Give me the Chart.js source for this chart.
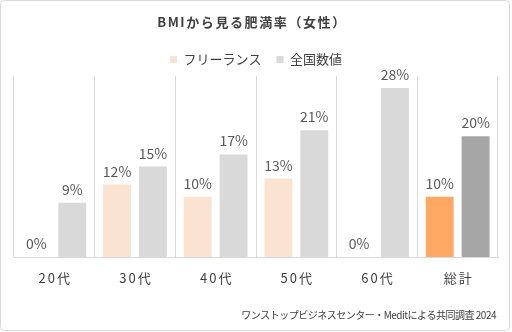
<!DOCTYPE html>
<html>
<head>
<meta charset="utf-8">
<script src="https://cdn.jsdelivr.net/npm/chart.js@4"></script>
<style>
  html, body { margin: 0; padding: 0; background: #fff; }
  canvas { display: block; }
</style>
</head>
<body>
<canvas id="chart" width="512" height="332"></canvas>
<script>
const categories = ["20代", "30代", "40代", "50代", "60代", "総計"];
const freelance = [0, 12, 10, 13, 0, 10];
const national = [9, 15, 17, 21, 28, 20];
const seriesNames = ["フリーランス", "全国数値"];
const titleText = "BMIから見る肥満率（女性）";
const sourceText = "ワンストップビジネスセンター・Meditによる共同調査 2024";

const FONT = "'Noto Sans CJK JP', 'Noto Sans', sans-serif";
const last = categories.length - 1;

// title, category labels, value labels, source line and frame
const decor = {
  id: "decor",
  afterDraw(chart) {
    const ctx = chart.ctx;
    const xs = chart.scales.x;
    ctx.save();

    ctx.strokeStyle = "#d9d9d9";
    ctx.lineWidth = 1;
    ctx.beginPath();
    ctx.roundRect(0.5, 0.5, 509, 330, 4);
    ctx.stroke();

    ctx.textAlign = "center";
    ctx.textBaseline = "middle";
    ctx.fillStyle = "#404040";
    ctx.font = "bold 13px " + FONT;
    ctx.letterSpacing = "1.6px";
    ctx.fillText(titleText, 252, 22);

    ctx.letterSpacing = "2px";
    ctx.font = "13px " + FONT;
    categories.forEach((c, i) => {
      ctx.fillText(c, xs.getPixelForValue(i) + 1, 278);
    });
    ctx.letterSpacing = "0px";

    ctx.font = "14px " + FONT;
    ctx.fillStyle = "#595959";
    ctx.textBaseline = "alphabetic";
    chart.data.datasets.forEach((ds, di) => {
      chart.getDatasetMeta(di).data.forEach((bar, i) => {
        ctx.fillText(ds.data[i] + "%", bar.x, bar.y - 8);
      });
    });

    ctx.font = "10px " + FONT;
    ctx.letterSpacing = "-0.5px";
    ctx.fillStyle = "#404040";
    ctx.textAlign = "right";
    ctx.textBaseline = "middle";
    ctx.fillText(sourceText, 496, 315);
    ctx.restore();
  }
};

new Chart(document.getElementById("chart"), {
  type: "bar",
  data: {
    labels: categories,
    datasets: [
      {
        label: seriesNames[0],
        data: freelance,
        backgroundColor: (c) => c.dataIndex === last ? "#ffa864" : "#fbe3d2",
      },
      {
        label: seriesNames[1],
        data: national,
        backgroundColor: (c) => c.dataIndex === last ? "#a6a6a6" : "#d9d9d9",
      },
    ],
  },
  options: {
    responsive: false,
    animation: false,
    categoryPercentage: 0.889,
    barPercentage: 0.778,
    layout: { padding: { left: 14, right: 14, top: 38, bottom: 75 } },
    plugins: {
      title: { display: false },
      tooltip: { enabled: false },
      legend: {
        position: "top",
        labels: {
          boxWidth: 7,
          boxHeight: 7,
          padding: 15,
          color: "#404040",
          font: { size: 13, family: FONT },
        },
      },
    },
    scales: {
      x: {
        grid: { color: "#d9d9d9", drawTicks: false, offset: true },
        border: { color: "#d9d9d9" },
        ticks: { display: false },
      },
      y: { display: false, min: 0, max: 30 },
    },
  },
  plugins: [decor],
});
</script>
</body>
</html>
